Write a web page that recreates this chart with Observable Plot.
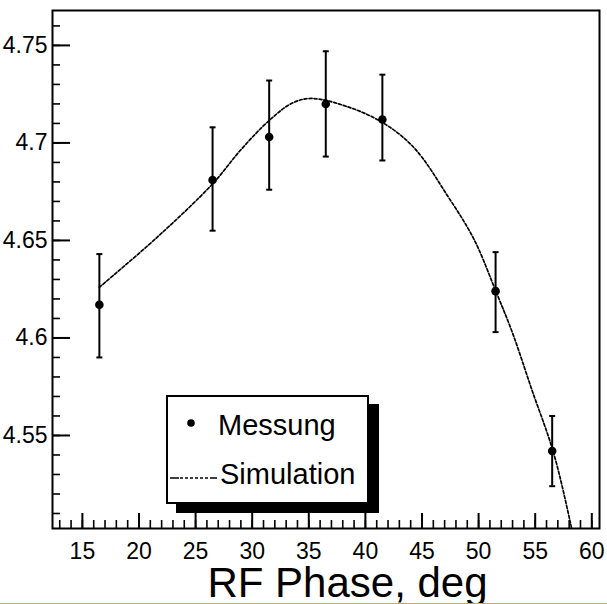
<!DOCTYPE html>
<html>
<head>
<meta charset="utf-8">
<script src="https://cdn.jsdelivr.net/npm/d3@7"></script>
<script src="https://cdn.jsdelivr.net/npm/@observablehq/plot@0.6"></script>
<style>
  html, body { margin: 0; padding: 0; background: #fff; }
  body { width: 607px; height: 604px; overflow: hidden; position: relative; font-family: "Liberation Sans", Arial, sans-serif; color: #000; }
  #xlabel { height: 41px; line-height: 41px; font-size: 42px; text-align: center; padding-left: 88px; box-sizing: border-box; width: 607px; overflow: hidden; white-space: nowrap; }
  #orange { height: 1px; width: 607px; background: #f0a030; }
  #legend { position: absolute; left: 166px; top: 395px; width: 203px; height: 109px; box-sizing: border-box; border: 2px solid #000; background: #fff; box-shadow: 10px 9px 0 #000; }
  #legend svg { position: absolute; left: -2px; top: -2px; overflow: visible; }
</style>
</head>
<body>
<div id="chart"></div>
<div id="xlabel">RF Phase, deg</div>
<div id="orange"></div>
<div id="legend"></div>
<script>
// Measured points ("Messung")
const phase    = [16.5, 26.5, 31.5, 36.5, 41.5, 51.5, 56.5];
const measured = [4.617, 4.681, 4.703, 4.720, 4.712, 4.624, 4.542];
const errLow   = [4.590, 4.655, 4.676, 4.693, 4.691, 4.603, 4.524];
const errHigh  = [4.643, 4.708, 4.732, 4.747, 4.735, 4.644, 4.560];

// Simulation curve
const simPhase = [16.5, 21.6, 26.5, 29, 31.5, 33.5, 35.2, 38.3, 41.5, 44.3, 47.3, 49.6, 51.5, 53, 54.7, 56.6, 58.1, 58.8];
const simValue = [4.626, 4.6516, 4.679, 4.6965, 4.7115, 4.7203, 4.7228, 4.7188, 4.7105, 4.6975, 4.6725, 4.6505, 4.6243, 4.6025, 4.5735, 4.5415, 4.5055, 4.486];

// Tick labels
const xMajor = [15, 20, 25, 30, 35, 40, 45, 50, 55, 60];
const xMinor = d3.range(13, 61);
const yMajor = [4.55, 4.6, 4.65, 4.7, 4.75];
const yMinor = d3.range(451, 477).map(v => v / 100);

const legendLabels = ["Messung", "Simulation"];

const meas = phase.map((p, i) => ({phase: p, val: measured[i], lo: errLow[i], hi: errHigh[i]}));
const sim = simPhase.map((p, i) => ({phase: p, val: simValue[i]}));

const cap = { draw(context, size) { const r = Math.sqrt(size / Math.PI); context.moveTo(-r, 0); context.lineTo(r, 0); } };

const font = '"Liberation Sans", Arial, sans-serif';

const plot = Plot.plot({
  width: 607,
  height: 562,
  marginLeft: 52,
  marginRight: 8,
  marginTop: 10,
  marginBottom: 34,
  x: {domain: [12.36, 60.68], label: null},
  y: {domain: [4.5023, 4.7679], label: null},
  style: {fontFamily: font, fontSize: "23px", color: "#000", background: "#fff", overflow: "visible"},
  marks: [
    Plot.line(sim, {x: "phase", y: "val", stroke: "#000", strokeWidth: 1.7, strokeDasharray: "3,2", curve: "catmull-rom", clip: true}),
    Plot.ruleX(meas, {x: "phase", y1: "lo", y2: "hi", stroke: "#000", strokeWidth: 2}),
    Plot.dot(meas, {x: "phase", y: "lo", symbol: cap, r: 3, stroke: "#000", strokeWidth: 2}),
    Plot.dot(meas, {x: "phase", y: "hi", symbol: cap, r: 3, stroke: "#000", strokeWidth: 2}),
    Plot.dot(meas, {x: "phase", y: "val", r: 4.3, fill: "#000"}),
    Plot.axisX({ticks: xMinor, tickSize: 8, dy: -8, fill: "none", label: null, strokeWidth: 1.6}),
    Plot.axisX({ticks: xMajor, tickSize: 15, dy: -15, fill: "none", label: null, strokeWidth: 2}),
    Plot.axisX({ticks: xMajor, tickSize: 0, tickPadding: 14, label: null, tickFormat: d => String(d)}),
    Plot.axisY({ticks: yMinor, tickSize: 8, dx: 8, fill: "none", label: null, strokeWidth: 1.6}),
    Plot.axisY({ticks: yMajor, tickSize: 18, dx: 18, fill: "none", label: null, strokeWidth: 2}),
    Plot.axisY({ticks: yMajor, tickSize: 0, tickPadding: 5, label: null, tickFormat: d => String(d)}),
    Plot.frame({stroke: "#000", strokeWidth: 2})
  ]
});
document.getElementById("chart").appendChild(plot);

// Legend
const ns = "http://www.w3.org/2000/svg";
const lsvg = document.createElementNS(ns, "svg");
lsvg.setAttribute("width", 203);
lsvg.setAttribute("height", 109);
lsvg.innerHTML = `
  <circle cx="25" cy="28" r="3.8" fill="#000"></circle>
  <text x="52" y="40" font-size="29" font-family='${font}'>${legendLabels[0]}</text>
  <line x1="4" y1="83" x2="51" y2="83" stroke="#000" stroke-width="1.6" stroke-dasharray="9,1,3,2,3,2,3,2,3,2,3,2,3,2"></line>
  <text x="54" y="89" font-size="29" font-family='${font}'>${legendLabels[1]}</text>`;
document.getElementById("legend").appendChild(lsvg);
</script>
</body>
</html>
